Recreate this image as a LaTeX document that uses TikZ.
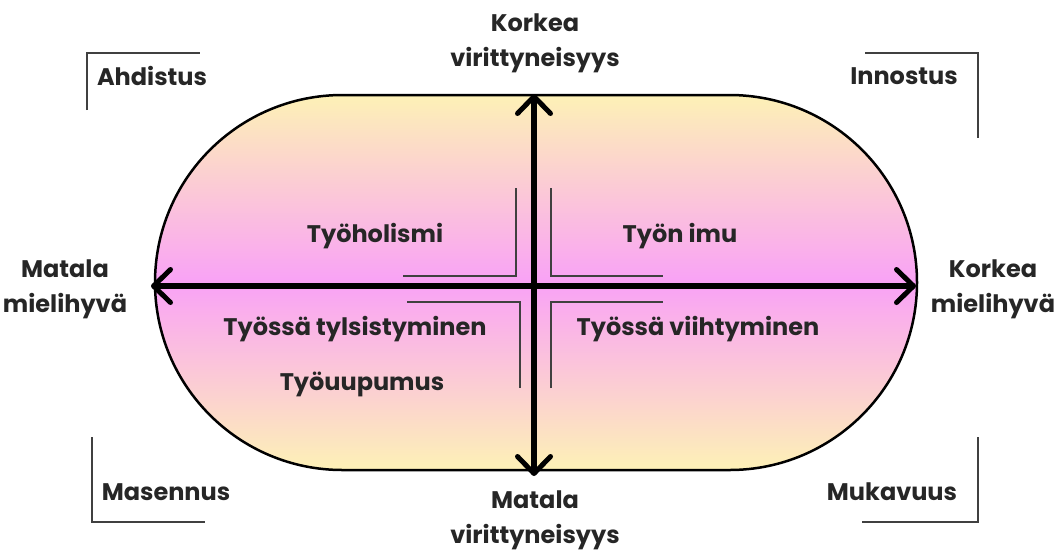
\documentclass[tikz,border=0pt]{standalone}
\usepackage{fontspec}
\setmainfont{Poppins}
\usetikzlibrary{arrows.meta}
\definecolor{sunlight}{HTML}{FDF1B6}
\definecolor{blossom}{HTML}{F9A2F6}
\tikzset{
  lbl/.style={font=\fontsize{24}{35}\selectfont\bfseries, text=black!85, align=center, inner sep=0pt},
  frame/.style={draw=black!75, line width=1.3pt},
  axis/.style={line width=6pt, {Straight Barb[length=17pt,width=33pt,line width=5pt,round]}-{Straight Barb[length=17pt,width=33pt,line width=5pt,round]}},
}
\begin{document}
\begin{tikzpicture}[x=1pt,y=-1pt]
\useasboundingbox (0,0) rectangle (1059,550);

% rounded field with a vertical colour blend
\path[top color=sunlight, bottom color=sunlight, middle color=blossom, draw=black, line width=2.5pt,
  rounded corners=187.5pt] (155,95) rectangle (917,470);

% inner corner marks
\draw[frame] (403,276) -- (516,276) -- (516,188);
\draw[frame] (551,188) -- (551,276) -- (663,276);
\draw[frame] (407,302) -- (520,302) -- (520,388);
\draw[frame] (551,388) -- (551,302) -- (663,302);

% outer corner marks
\draw[frame] (87,110) -- (87,53) -- (200,53);
\draw[frame] (865,53) -- (978,53) -- (978,138);
\draw[frame] (92,437) -- (92,522) -- (205,522);
\draw[frame] (978,437) -- (978,522) -- (862,522);

% axis ends
\coordinate (west) at (151,286);
\coordinate (east) at (916,286);
\coordinate (north) at (534,94);
\coordinate (south) at (534,476);
\draw[axis] (west) -- (east);
\draw[axis] (south) -- (north);

% labels
\node[lbl] (hi) at (535,43) {Korkea\\virittyneisyys};
\node[lbl] (lo) at (535,520) {Matala\\virittyneisyys};
\node[lbl] (lowp) at (65,289) {Matala\\mielihyvä};
\node[lbl] (highp) at (993,289) {Korkea\\mielihyvä};
\node[lbl] (anx) at (152,76) {Ahdistus};
\node[lbl] (ent) at (904,76) {Innostus};
\node[lbl] (dep) at (166,492) {Masennus};
\node[lbl] (com) at (892,492) {Mukavuus};
\node[lbl] (wah) at (375,236) {Työholismi};
\node[lbl] (eng) at (680,236) {Työn imu};
\node[lbl] (bor) at (355,329) {Työssä tylsistyminen};
\node[lbl] (sat) at (698,329) {Työssä viihtyminen};
\node[lbl] (bur) at (362,384) {Työuupumus};
\end{tikzpicture}
\end{document}
